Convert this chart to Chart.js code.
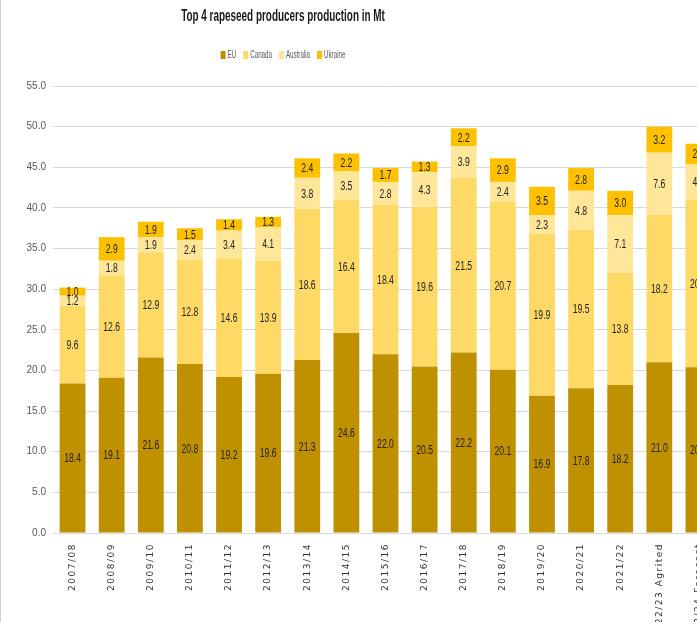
<!DOCTYPE html>
<html>
<head>
<meta charset="utf-8">
<script src="https://cdn.jsdelivr.net/npm/chart.js@4.4.1/dist/chart.umd.min.js"></script>
<style>
    html, body { margin: 0; padding: 0; background: #fff; overflow: hidden; }
    #wrap { position: relative; width: 697px; height: 622px; overflow: hidden; border-left: 1px solid #d0d0d0; box-sizing: border-box; }
    #box { position: absolute; left: 0; top: 0; width: 722px; height: 622px; }
</style>
</head>
<body>
<div id="wrap"><div id="box"><canvas id="rapeseedChart"></canvas></div></div>
<script>
/* Top 4 rapeseed producers - stacked production bars (Mt) */

const seasons = ['2007/08', '2008/09', '2009/10', '2010/11', '2011/12', '2012/13', '2013/14', '2014/15',
    '2015/16', '2016/17', '2017/18', '2018/19', '2019/20', '2020/21', '2021/22', '22/23 Agrited', '23/24 Forecast'];

const euProd        = [18.4, 19.1, 21.6, 20.8, 19.2, 19.6, 21.3, 24.6, 22.0, 20.5, 22.2, 20.1, 16.9, 17.8, 18.2, 21.0, 20.4];
const canadaProd    = [9.6, 12.6, 12.9, 12.8, 14.6, 13.9, 18.6, 16.4, 18.4, 19.6, 21.5, 20.7, 19.9, 19.5, 13.8, 18.2, 20.6];
const australiaProd = [1.2, 1.8, 1.9, 2.4, 3.4, 4.1, 3.8, 3.5, 2.8, 4.3, 3.9, 2.4, 2.3, 4.8, 7.1, 7.6, 4.4];
const ukraineProd   = [1.0, 2.9, 1.9, 1.5, 1.4, 1.3, 2.4, 2.2, 1.7, 1.3, 2.2, 2.9, 3.5, 2.8, 3.0, 3.2, 2.5];

const yTicks = [0, 5, 10, 15, 20, 25, 30, 35, 40, 45, 50, 55];

const SANS = '"Liberation Sans", Arial, sans-serif';

// no condensed face installed, so squeeze the text horizontally instead
function fillCondensed(ctx, text, x, y, squeeze) {
    const w = ctx.measureText(text).width;
    ctx.fillText(text, x, y, w * squeeze);
    return w * squeeze;
}

// value labels centred in every stacked segment
const segmentLabels = {
    id: 'segmentLabels',
    afterDatasetsDraw(chart) {
        const { ctx } = chart;
        ctx.save();
        ctx.font = '12px ' + SANS;
        ctx.fillStyle = '#222';
        ctx.textAlign = 'center';
        ctx.textBaseline = 'middle';
        chart.data.datasets.forEach((ds, di) => {
            const meta = chart.getDatasetMeta(di);
            meta.data.forEach((bar, i) => {
                const v = ds.data[i];
                if (v == null) return;
                fillCondensed(ctx, v.toFixed(1), bar.x, (bar.y + bar.base) / 2 + 1, 0.72);
            });
        });
        ctx.restore();
    }
};

// spaced-out lettering for the season labels under the bars
const spacedSeasonLabels = {
    id: 'spacedSeasonLabels',
    afterLayout(chart) {
        const xs = chart.scales.x;
        if (xs._spacedPatched) return;
        const orig = xs.drawLabels.bind(xs);
        xs.drawLabels = (area) => {
            chart.ctx.save();
            chart.ctx.letterSpacing = '1.5px';
            orig(area);
            chart.ctx.restore();
        };
        xs._spacedPatched = true;
    }
};

// title and small legend row, centred over the visible part of the chart
const header = {
    id: 'header',
    afterDraw(chart) {
        const { ctx } = chart;
        const cx = 282;
        ctx.save();
        ctx.fillStyle = '#1a1a1a';
        ctx.textAlign = 'center';
        ctx.textBaseline = 'middle';
        ctx.font = 'bold 16px ' + SANS;
        fillCondensed(ctx, 'Top 4 rapeseed producers production in Mt', cx, 17, 0.62);

        ctx.font = '10px ' + SANS;
        const squeeze = 0.62, sw = 5, gapIn = 2, gapOut = 7;
        const items = chart.data.datasets.map(d => ({
            text: d.label, color: d.backgroundColor, w: ctx.measureText(d.label).width * squeeze
        }));
        const total = items.reduce((s, it) => s + sw + gapIn + it.w, 0) + gapOut * (items.length - 1);
        let x = cx - total / 2;
        ctx.textAlign = 'left';
        items.forEach(it => {
            ctx.fillStyle = it.color;
            ctx.fillRect(x, 51, sw, 8);
            x += sw + gapIn;
            ctx.fillStyle = '#595959';
            ctx.fillText(it.text, x, 55, it.w);
            x += it.w + gapOut;
        });
        ctx.restore();
    }
};

const seriesStyle = { barPercentage: 0.66, categoryPercentage: 1.0, borderWidth: 0 };

new Chart(document.getElementById('rapeseedChart'), {
    type: 'bar',
    data: {
        labels: seasons,
        datasets: [
            { label: 'EU', data: euProd, backgroundColor: '#BF9000', ...seriesStyle },
            { label: 'Canada', data: canadaProd, backgroundColor: '#FFD966', ...seriesStyle },
            { label: 'Australia', data: australiaProd, backgroundColor: '#FFE699', ...seriesStyle },
            { label: 'Ukraine', data: ukraineProd, backgroundColor: '#FFC000', ...seriesStyle }
        ]
    },
    options: {
        responsive: true,
        maintainAspectRatio: false,
        animation: false,
        layout: { padding: { top: 86, left: 0, right: 5, bottom: 0 } },
        plugins: {
            legend: { display: false },
            title: { display: false },
            tooltip: { enabled: false }
        },
        scales: {
            x: {
                stacked: true,
                grid: { display: false },
                border: { color: '#d9d9d9' },
                ticks: {
                    maxRotation: 90,
                    minRotation: 90,
                    autoSkip: false,
                    color: '#333',
                    font: { family: '"DejaVu Sans", sans-serif', size: 9 },
                    padding: 2
                },
                afterFit(scale) { scale.height = 89; }
            },
            y: {
                stacked: true,
                min: 0,
                max: 55,
                afterBuildTicks(scale) { scale.ticks = yTicks.map(v => ({ value: v })); },
                grid: { color: '#d9d9d9', drawTicks: false },
                border: { display: false },
                ticks: {
                    color: '#595959',
                    padding: 7,
                    font: { family: SANS, size: 10 },
                    callback: v => Number(v).toFixed(1)
                },
                afterFit(scale) { scale.width = 52; }
            }
        }
    },
    plugins: [segmentLabels, spacedSeasonLabels, header]
});
</script>
</body>
</html>
